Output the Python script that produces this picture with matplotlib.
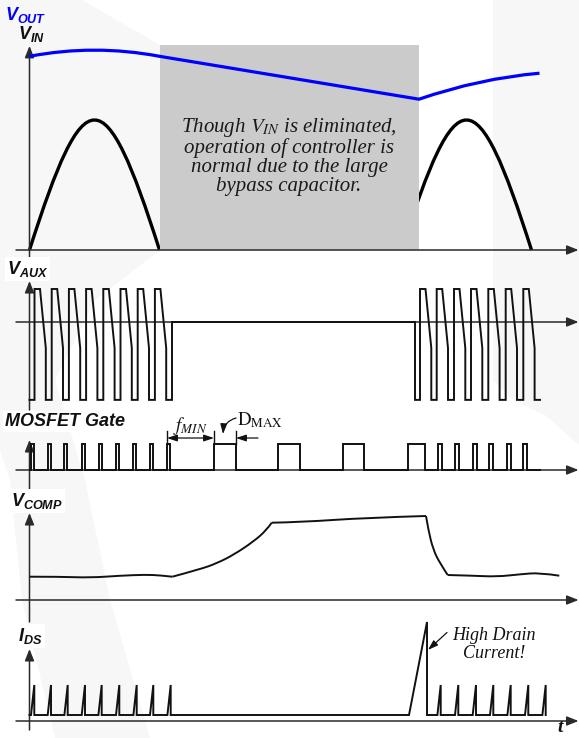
import matplotlib.pyplot as plt
from matplotlib.path import Path
from matplotlib.patches import PathPatch, FancyArrowPatch, Rectangle, Polygon

plt.rcParams['mathtext.fontset'] = 'custom'
plt.rcParams['mathtext.it'] = 'Liberation Sans:bold:italic'
plt.rcParams['mathtext.rm'] = 'Liberation Sans:bold:italic'
plt.rcParams['mathtext.bf'] = 'Liberation Sans:bold:italic'

# time runs in arbitrary units, 0 sits on the vertical axes

# V_IN / V_OUT
vin_humps = [(0, 130), (372, 502)]          # rectified line half-cycles
hold_start, hold_end = 130, 389.5           # V_IN missing here
vout_t = [0, 65, 130, 389.5, 450, 510]
vout_v = [1.49, 1.585, 1.49, 1.16, 1.32, 1.36]

# V_AUX winding
aux_rise1 = [5, 22.2, 39.4, 56.6, 73.8, 91, 108.2, 125.4]
aux_rise2 = [390.5, 407.2, 424.5, 441.5, 458.8, 476.2, 493.8]
aux_idle = (142.5, 385.5)
aux_end = 510.5
aux_high, aux_knee, aux_low = 1.0, -0.79, -2.36

# MOSFET gate drive
gate_narrow1 = [1.2, 18.2, 34.5, 52.2, 69.5, 86.5, 103.2, 120.5, 137.5]
gate_wide = [184.5, 248.5, 313.5, 378.5]
gate_wide_len = [22, 22, 21, 17]
gate_narrow2 = [408.5, 425.5, 443.5, 459.5, 477.5, 493.5]
gate_end = 510.5

# V_COMP
comp_t = [0, 30.5, 60.5, 90.5, 115.5, 130.5, 142.8,
          170.5, 187.2, 203.8, 223.8, 237.2, 242.2,
          270.5, 337.5, 396.5,
          398.8, 403.8, 410.5, 418.2,
          443.8, 467.2, 490.5, 510.5, 529.8]
comp_v = [0.233, 0.233, 0.223, 0.243, 0.253, 0.247, 0.233,
          0.307, 0.367, 0.45, 0.583, 0.70, 0.773,
          0.778, 0.823, 0.84,
          0.70, 0.50, 0.367, 0.25,
          0.243, 0.233, 0.257, 0.273, 0.243]
comp_corners = [6, 12, 15, 19]

# I_DS
ids_peak1 = [4.8, 21.5, 38.2, 55.5, 72.2, 89.8, 107.2, 123.8, 141.2]
ids_peak2 = [411.2, 428.8, 446.5, 463.8, 481.2, 498.8, 516.2]
ids_surge = (379.5, 397.5, 3.3)
ids_low, ids_high = 0.2, 1.2

W, H = 579, 738
X0 = 29.5
INK = '#111111'
AXC = '#2a2a2a'

fig = plt.figure(figsize=(W / 100, H / 100), dpi=100)

# faint backdrop shapes behind the diagram
bg = fig.add_axes([0, 0, 1, 1], zorder=-1)
bg.set_xlim(0, W)
bg.set_ylim(H, 0)
bg.axis('off')
bg.add_patch(Polygon([(0, 0), (82, 0), (160, 45), (160, 250), (95, 300), (55, 380),
                      (85, 480), (110, 600), (150, 738), (55, 738), (22, 600),
                      (10, 480), (0, 450)], closed=True, fc='#f7f7f7', ec='none'))
bg.add_patch(Polygon([(493, 0), (579, 0), (579, 445), (545, 415), (513, 400), (493, 380)],
                     closed=True, fc='#f7f7f7', ec='none'))


def panel(top, bottom, zero, scale):
    ax = fig.add_axes([0, 1 - bottom / H, 1, (bottom - top) / H])
    ax.set_xlim(-X0, W - X0)
    ax.set_ylim((zero - bottom) / scale, (zero - top) / scale)
    ax.axis('off')
    ax.patch.set_visible(False)
    return ax


def arrow(ax, p0, p1, lw=1.1):
    ax.add_patch(FancyArrowPatch(p0, p1, arrowstyle='-|>,head_length=0.7,head_width=0.28',
                                 mutation_scale=10, lw=lw, color=AXC, shrinkA=0, shrinkB=0,
                                 clip_on=False, zorder=3))


def axes_arrows(ax, v_bottom, v_top, h_level=0):
    arrow(ax, (-13.5, h_level), (549, h_level))
    arrow(ax, (0, v_bottom), (0, v_top))


def smooth(ts, vs):
    # quadratic path through the end points, inner points act as controls
    verts = [(ts[0], vs[0])]
    codes = [Path.MOVETO]
    if len(ts) == 2:
        verts.append((ts[1], vs[1]))
        codes.append(Path.LINETO)
        return verts, codes
    for i in range(1, len(ts) - 1):
        end = (ts[i + 1], vs[i + 1]) if i == len(ts) - 2 else \
            ((ts[i] + ts[i + 1]) / 2, (vs[i] + vs[i + 1]) / 2)
        verts += [(ts[i], vs[i]), end]
        codes += [Path.CURVE3, Path.CURVE3]
    return verts, codes


# ---------------- V_IN / V_OUT ----------------
ax1 = panel(20, 265, 250, 130)
for a, b in vin_humps:
    k = 0.4244 * (b - a)
    hump = Path([(a, 0), (a + k, 4 / 3), (b - k, 4 / 3), (b, 0)],
                [Path.MOVETO, Path.CURVE4, Path.CURVE4, Path.CURVE4])
    ax1.add_patch(PathPatch(hump, fill=False, lw=2.4, ec='black', zorder=1,
                            capstyle='butt'))
ax1.add_patch(Rectangle((hold_start, 0), hold_end - hold_start, 1.577,
                        fc='#cbcbcb', ec='none', zorder=2))
vout = Path(list(zip(vout_t, vout_v)),
            [Path.MOVETO, Path.CURVE3, Path.CURVE3, Path.LINETO, Path.CURVE3, Path.CURVE3])
ax1.add_patch(PathPatch(vout, fill=False, lw=2.3, ec='#0000ff', zorder=4))
axes_arrows(ax1, -0.092, 1.57)
ax1.text(259.5, 0.725, "Though $V_{IN}$ is eliminated,\noperation of controller is\n"
         "normal due to the large\nbypass capacitor.",
         ha='center', va='center', family='Liberation Serif', style='italic',
         fontsize=15, linespacing=0.97, math_fontfamily='stix', color='#1a1a1a', zorder=5)

# ---------------- V_AUX ----------------
ax2 = panel(276, 412, 322, 33)


def aux_pulses(rises, ts, vs):
    for r in rises:
        ts += [r, r, r + 5.5, r + 6.8, r + 11.3, r + 11.3]
        vs += [aux_low, aux_high, aux_high, 0.6, aux_knee, aux_low]


aux_t, aux_v = [0], [aux_low]
aux_pulses(aux_rise1, aux_t, aux_v)
aux_t += [aux_idle[0], aux_idle[0], aux_idle[1], aux_idle[1]]
aux_v += [aux_low, 0, 0, aux_low]
aux_pulses(aux_rise2, aux_t, aux_v)
aux_t.append(aux_end)
aux_v.append(aux_low)
ax2.plot(aux_t, aux_v, color=INK, lw=1.4, zorder=4, solid_joinstyle='miter')
axes_arrows(ax2, -2.667, 1.242)

# ---------------- MOSFET gate ----------------
ax3 = panel(405, 495, 470, 26)
pulses = [(s, 3) for s in gate_narrow1] + list(zip(gate_wide, gate_wide_len)) + \
         [(s, 3.5) for s in gate_narrow2]
g_t, g_v = [0], [0]
for s, w in pulses:
    g_t += [s, s, s + w, s + w]
    g_v += [0, 1, 1, 0]
g_t.append(gate_end)
g_v.append(0)
ax3.plot(g_t, g_v, color=INK, lw=1.4, zorder=4, solid_joinstyle='miter')
axes_arrows(ax3, -0.885, 1.154)

# f_MIN and D_MAX dimension marks
f_left, f_right = gate_narrow1[-1], gate_wide[0]
d_right = gate_wide[0] + gate_wide_len[0]
for x in (f_left, f_right, d_right):
    ax3.plot([x, x], [1.0, 1.5], color=INK, lw=1.0, zorder=4)
ax3.add_patch(FancyArrowPatch((f_left, 1.23), (f_right, 1.23),
                              arrowstyle='<|-|>,head_length=0.6,head_width=0.2',
                              mutation_scale=10, lw=0.9, color=INK, shrinkA=0, shrinkB=0))
ax3.add_patch(FancyArrowPatch((d_right + 22, 1.23), (d_right, 1.23),
                              arrowstyle='-|>,head_length=0.6,head_width=0.2',
                              mutation_scale=10, lw=0.9, color=INK, shrinkA=0, shrinkB=0))
ax3.add_patch(FancyArrowPatch((d_right, 2.0), (f_right + 9, 1.38),
                              arrowstyle='-|>,head_length=0.6,head_width=0.2',
                              connectionstyle='arc3,rad=0.35',
                              mutation_scale=10, lw=0.9, color=INK, shrinkA=0, shrinkB=0))
ax3.text((f_left + f_right) / 2, 1.68, r'$f_{MIN}$', ha='center', va='center',
         fontsize=13.5, math_fontfamily='stix', color=INK)
ax3.text(d_right + 1, 1.9, r'$\mathrm{D_{MAX}}$', ha='left', va='center',
         fontsize=13.5, math_fontfamily='stix', color=INK)

# ---------------- V_COMP ----------------
ax4 = panel(490, 622, 600, 100)
bounds = [0] + comp_corners + [len(comp_t) - 1]
for i0, i1 in zip(bounds[:-1], bounds[1:]):
    verts, codes = smooth(comp_t[i0:i1 + 1], comp_v[i0:i1 + 1])
    ax4.add_patch(PathPatch(Path(verts, codes), fill=False, lw=1.4, ec=INK, zorder=4))
axes_arrows(ax4, -0.22, 0.87)

# ---------------- I_DS ----------------
ax5 = panel(612, 738, 721, 30)
i_t, i_v = [0], [ids_low]
for p in ids_peak1:
    i_t += [p - 3.3, p, p]
    i_v += [ids_low, ids_high, ids_low]
i_t += [ids_surge[0], ids_surge[1], ids_surge[1]]
i_v += [ids_low, ids_surge[2], ids_low]
for p in ids_peak2:
    i_t += [p - 3.3, p, p]
    i_v += [ids_low, ids_high, ids_low]
ax5.plot(i_t, i_v, color=INK, lw=1.4, zorder=4, solid_joinstyle='miter')
axes_arrows(ax5, -0.3, 2.4)
ax5.add_patch(FancyArrowPatch((ids_surge[1] + 20, 2.95), (ids_surge[1] + 1, 2.37),
                              arrowstyle='-|>,head_length=0.6,head_width=0.2',
                              mutation_scale=10, lw=0.9, color=INK, shrinkA=0, shrinkB=0))
ax5.text(464.5, 2.55, 'High Drain\nCurrent!', ha='center', va='center',
         family='Liberation Serif', style='italic', fontsize=13, linespacing=1.0, color=INK)
ax5.text(531, -0.2, 't', ha='center', va='center', family='Liberation Serif',
         style='italic', weight='bold', fontsize=14, color=INK)

# ---------------- signal names ----------------
lab = dict(fontsize=13, va='baseline', ha='left')
box = dict(fc='white', ec='none', pad=1.5)
fig.text(5 / W, 1 - 20 / H, r'$V_{OUT}$', color='#0000ff', **lab)
fig.text(18 / W, 1 - 39 / H, r'$V_{IN}$', color=INK, **lab)
fig.text(7 / W, 1 - 274 / H, r'$V_{AUX}$', color=INK, bbox=box, **lab)
fig.text(5 / W, 1 - 426 / H, 'MOSFET Gate', color=INK, family='Liberation Sans',
         weight='bold', style='italic', bbox=box, **lab)
fig.text(11 / W, 1 - 506 / H, r'$V_{COMP}$', color=INK, bbox=box, **lab)
fig.text(18 / W, 1 - 641 / H, r'$I_{DS}$', color=INK, bbox=box, **lab)

fig.savefig('out.png', dpi=100)
